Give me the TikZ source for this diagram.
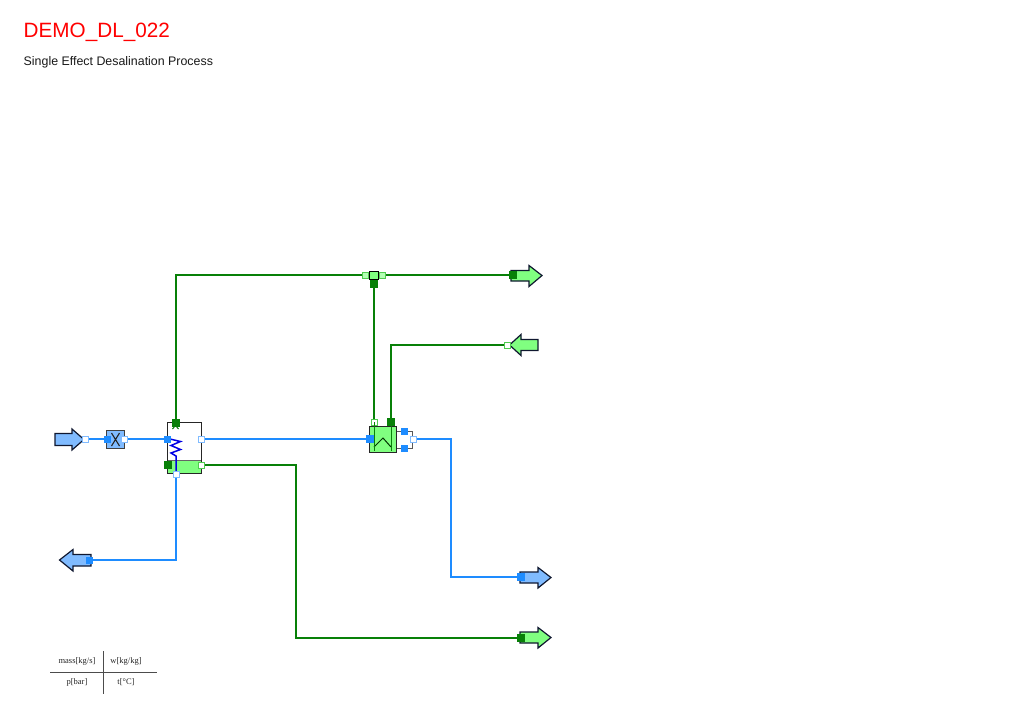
\documentclass[tikz,border=0pt]{standalone}
\usepackage{fontspec}
\setmainfont{Liberation Sans}
\newfontfamily\serifsmall{Liberation Serif}
\definecolor{bluefill}{HTML}{80BBFF}
\definecolor{greenfill}{HTML}{80FF80}
\definecolor{bluepipe}{HTML}{1E8CFF}
\definecolor{greenpipe}{HTML}{088008}
\definecolor{darkedge}{HTML}{101830}
\tikzset{
  bluepipeline/.style={draw=bluepipe,line width=2pt},
  greenpipeline/.style={draw=greenpipe,line width=2pt},
  portbase/.style={rectangle,inner sep=0pt,minimum size=6pt,line width=1pt},
  bluein/.style={portbase,fill=bluepipe,draw=bluepipe},
  blueout/.style={portbase,fill=white,draw=bluefill},
  greenin/.style={portbase,fill=greenpipe,draw=greenpipe},
  greenout/.style={portbase,fill=white,draw=greenfill!60!greenpipe},
  arrowshape/.style={draw=darkedge,line width=1.2pt,line join=miter},
  unitedge/.style={draw=black!85,line width=1pt},
  tableline/.style={draw=black!70,line width=0.6pt},
  tabletext/.style={font=\serifsmall\fontsize{8.5}{10}\selectfont,text=black!85,inner sep=0pt}
}
\begin{document}
\begin{tikzpicture}[x=1pt,y=-1pt]
\useasboundingbox (0,0) rectangle (1024,724);
\fill[white] (0,0) rectangle (1024,724);
% titles
\node[anchor=base west,inner sep=0pt,text=red,font=\fontsize{20.7}{24}\selectfont] (title) at (23.5,37) {DEMO\_DL\_022};
\node[anchor=base west,inner sep=0pt,text=black!90,font=\fontsize{12.4}{14}\selectfont] (subtitle) at (23.5,65) {Single Effect Desalination Process};
% boundary arrows
\fill[bluefill,arrowshape] (55,433.5) -- (72,433.5) -- (72,429) -- (84,439.5) -- (72,450) -- (72,445.5) -- (55,445.5) -- cycle;
\fill[bluefill,arrowshape] (91,554.5) -- (73,554.5) -- (73,549.5) -- (59.5,560) -- (73,571) -- (73,566) -- (91,566) -- cycle;
\fill[greenfill,arrowshape] (511,270.5) -- (529,270.5) -- (529,265.5) -- (542,275.5) -- (529,286.5) -- (529,281) -- (511,281) -- cycle;
\fill[greenfill,arrowshape] (538,339.5) -- (521,339.5) -- (521,334.5) -- (509.5,345) -- (521,355.5) -- (521,350.5) -- (538,350.5) -- cycle;
\fill[bluefill,arrowshape] (520,572) -- (538,572) -- (538,567.5) -- (551,577.5) -- (538,588) -- (538,583) -- (520,583) -- cycle;
\fill[greenfill,arrowshape] (520,632) -- (538,632) -- (538,627.5) -- (551,637.5) -- (538,648) -- (538,643) -- (520,643) -- cycle;
% valve
\node[rectangle,fill=bluefill,draw=black!75,line width=1.5pt,minimum size=18pt,inner sep=0pt] (valve) at (115.5,439.5) {};
\draw[black!85,line width=1.1pt] (111.5,433) -- (119.5,446) (119.5,433) -- (111.5,446);
% heat exchanger
\fill[white] (167.5,422.5) rectangle (201.5,473.5);
\fill[greenfill] (167.5,461) rectangle (201.5,473.5);
\draw[black!60,line width=1pt] (167.5,460.5) -- (201.5,460.5);
\draw[unitedge] (167.5,422.5) rectangle (201.5,473.5);
\draw[blue!90!black,line width=1.5pt,line join=miter] (170,439) -- (180.5,441.5) -- (171,445.5) -- (180.5,449.5) -- (171,453) -- (176,456) -- (176,474);
\draw[greenpipe,line width=1pt] (172.5,429) -- (175.5,425.5) -- (178.5,429);
% separator
\fill[greenfill,draw=black!85,line width=1.2pt] (369.5,426.5) rectangle (396.5,452.5);
\draw[black!60!greenpipe,line width=1pt] (374,447) -- (383,438) -- (391,447);
% brine bracket
\draw[black!65,line width=1pt] (396.5,431.5) -- (412.5,431.5) -- (412.5,448.5) -- (396.5,448.5);
% ports
\node[blueout] (srcout) at (85.5,439) {};
\node[bluein] (valvein) at (107,439) {};
\node[blueout] (valveout) at (124.5,439) {};
\node[bluein] (hxin) at (167,439) {};
\node[blueout] (hxout) at (201.5,439) {};
\node[greenin,minimum size=7pt] (hxsteamin) at (176,422.5) {};
\node[greenin,minimum size=7pt] (hxcondin) at (167.5,465) {};
\node[greenout] (hxcondout) at (201.5,465) {};
\node[blueout] (hxbrine) at (176,474) {};
\node[bluein] (brinesink) at (89,560) {};
\node[greenout,fill=greenfill!60] (splitl) at (365,275) {};
\node[greenout,fill=greenfill!60] (splitr) at (382.5,275) {};
\node[greenin,minimum size=7pt] (splitb) at (374,284) {};
\node[rectangle,draw=black,fill=greenfill,line width=1.2pt,minimum size=8.5pt,inner sep=0pt] (splitter) at (374,275.5) {};
\node[greenin,minimum size=7pt] (steamsink) at (512.5,275) {};
\node[greenout] (steamsrc) at (507.5,345) {};
\node[greenout] (sepout) at (374,422) {};
\node[greenin,minimum size=7pt] (sepin) at (391,422) {};
\node[bluein,minimum size=7pt] (sepfeed) at (369.5,439) {};
\node[bluein] (septop) at (404.5,431) {};
\node[bluein] (sepbot) at (404.5,448) {};
\node[blueout] (sepmerge) at (413,439) {};
\node[bluein,minimum size=7pt] (bluesink) at (521,577) {};
\node[greenin,minimum size=7pt] (greensink) at (521,638) {};
\coordinate (sepoutend) at (374,450.5);
\coordinate (sepinend) at (391,450.5);
% connectors
\draw[bluepipeline] (srcout) -- (valvein);
\draw[bluepipeline] (valveout) -- (hxin);
\draw[bluepipeline] (hxout) -- (sepfeed);
\draw[bluepipeline] (hxbrine) |- (brinesink);
\draw[bluepipeline] (sepmerge) -- (451,439) |- (bluesink);
\draw[greenpipeline] (hxsteamin) |- (splitl);
\draw[greenpipeline] (splitr) -- (steamsink);
\draw[greenpipeline] (splitb) -- (sepout);
\draw[greenpipeline] (steamsrc) -| (sepin);
\draw[greenpipeline] (hxcondout) -- (296,465) |- (greensink);
\draw[greenpipe,line width=1pt] (sepout.center) -- (sepoutend);
\draw[greenpipe,line width=1pt] (sepin.center) -- (sepinend);
% property table
\draw[tableline] (50,672.5) -- (157,672.5);
\draw[tableline] (103.5,651) -- (103.5,694);
\node[tabletext] (tmass) at (77,661) {mass[kg/s]};
\node[tabletext] (tw) at (126,661) {w[kg/kg]};
\node[tabletext] (tp) at (77,682) {p[bar]};
\node[tabletext] (tt) at (126,682) {t[°C]};
\end{tikzpicture}
\end{document}
